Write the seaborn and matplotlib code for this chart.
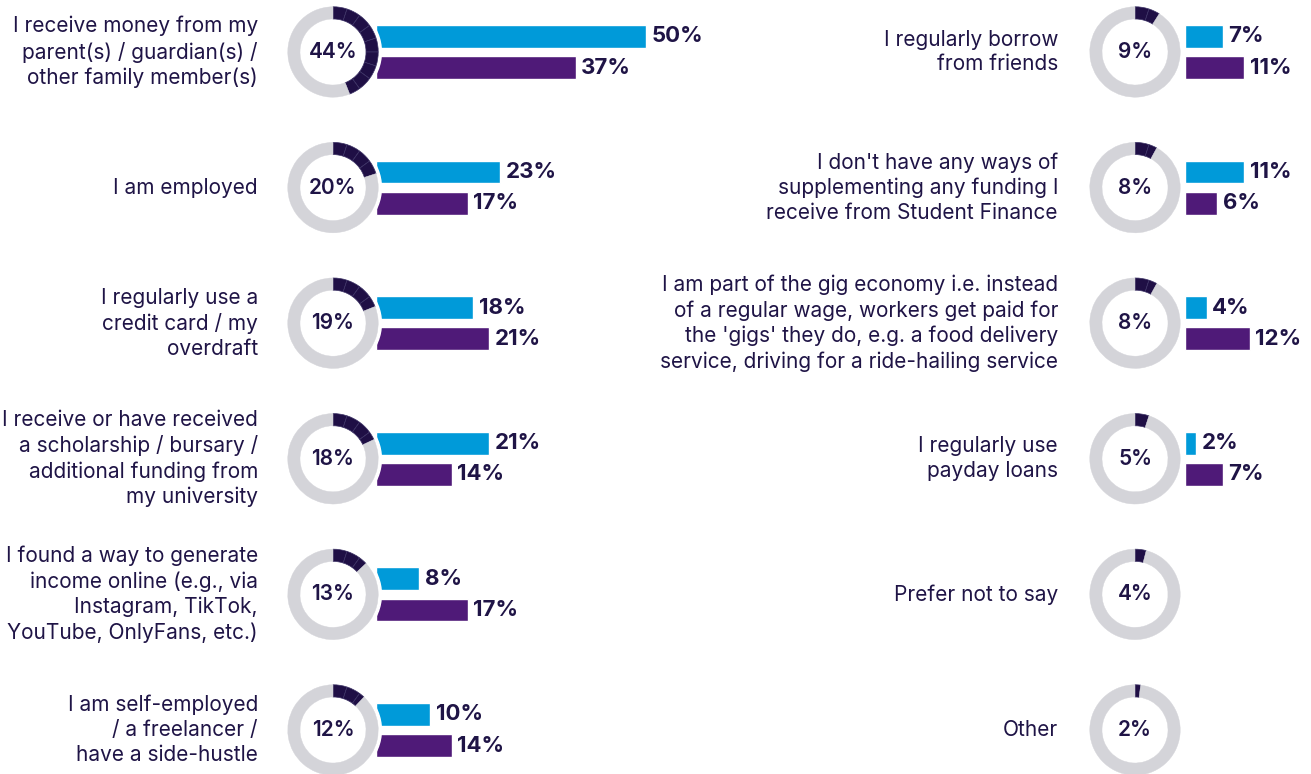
import numpy as np
import pandas as pd
import matplotlib
matplotlib.use("Agg")
import matplotlib.pyplot as plt
import matplotlib.transforms as mtransforms
from matplotlib.patches import Circle
import seaborn as sns

# ---------------- data ----------------
left_labels = [
    "I receive money from my\nparent(s) / guardian(s) /\nother family member(s)",
    "I am employed",
    "I regularly use a\ncredit card / my\noverdraft",
    "I receive or have received\na scholarship / bursary /\nadditional funding from\nmy university",
    "I found a way to generate\nincome online (e.g., via\nInstagram, TikTok,\nYouTube, OnlyFans, etc.)",
    "I am self-employed\n/ a freelancer /\nhave a side-hustle",
]
left_total = [44, 20, 19, 18, 13, 12]
left_blue = [50, 23, 18, 21, 8, 10]
left_purple = [37, 17, 21, 14, 17, 14]

right_labels = [
    "I regularly borrow\nfrom friends",
    "I don't have any ways of\nsupplementing any funding I\nreceive from Student Finance",
    "I am part of the gig economy i.e. instead\nof a regular wage, workers get paid for\nthe 'gigs' they do, e.g. a food delivery\nservice, driving for a ride-hailing service",
    "I regularly use\npayday loans",
    "Prefer not to say",
    "Other",
]
right_total = [9, 8, 8, 5, 4, 2]
right_blue = [7, 11, 4, 2, None, None]
right_purple = [11, 6, 12, 7, None, None]

series_names = ["Group A", "Group B"]

# ---------------- style ----------------
BLUE = "#009ad9"
PURPLE = "#4f1a78"
DARK = "#1f0f45"
GRAY = "#d4d4d9"
TEXT = "#1f1446"

sns.set_theme(style="white")
plt.rcParams["font.family"] = ["Inter", "DejaVu Sans"]

W, H = 1311, 774
fig = plt.figure(figsize=(W / 100, H / 100), dpi=100)
fig.patch.set_facecolor("white")

ROW0 = 52.0      # pixel y of first row center
ROWSTEP = 135.6  # pixel spacing of rows
PXPCT = 5.4      # pixels per percent


def make_df(labels, blue, purple):
    recs = []
    for lab, b, p in zip(labels, blue, purple):
        if b is not None:
            recs.append({"cat": lab, "series": series_names[0], "value": b})
        if p is not None:
            recs.append({"cat": lab, "series": series_names[1], "value": p})
    return pd.DataFrame(recs)


def column(labels, totals, blue, purple, x0_px, donut_cx, label_right_px, xmax):
    n = len(labels)
    top_px = ROW0 - ROWSTEP / 2
    height_px = ROWSTEP * n
    width_px = xmax * PXPCT
    ax = fig.add_axes([x0_px / W, (H - top_px - height_px) / H, width_px / W, height_px / H])
    ax.patch.set_alpha(0)
    df = make_df(labels, blue, purple)
    sns.barplot(data=df, y="cat", x="value", hue="series", order=labels,
                hue_order=series_names, palette=[BLUE, PURPLE], orient="h",
                width=0.46, gap=0.27, errorbar=None, legend=False, ax=ax,
                saturation=1)
    ax.set_xlim(0, xmax)
    ax.set_ylim(n - 0.5, -0.5)
    for cont in ax.containers:
        ax.bar_label(cont, fmt="{:.0f}%", padding=4, fontsize=16,
                     fontweight="bold", color=TEXT, clip_on=False)
    ax.axis("off")

    # category labels
    trans = mtransforms.blended_transform_factory(fig.transFigure, ax.transData)
    for i, lab in enumerate(labels):
        ax.text(label_right_px / W, i, lab, transform=trans, ha="right",
                va="center", fontsize=15, color=TEXT, linespacing=1.3,
                clip_on=False)

    # donuts
    size = 104
    for i, tot in enumerate(totals):
        cy = ROW0 + ROWSTEP * i
        dax = fig.add_axes([(donut_cx - size / 2) / W, (H - cy - size / 2) / H,
                            size / W, size / H])
        dax.patch.set_alpha(0)
        dax.add_patch(Circle((0, 0), 1.07, color="white", zorder=0))
        nfull = int(tot // 5)
        rem = tot - 5 * nfull
        vals = [5] * nfull + ([rem] if rem > 0 else []) + [100 - tot]
        wedges, _ = dax.pie(vals, startangle=90, counterclock=False, radius=1,
                            wedgeprops=dict(width=0.27))
        for w in wedges[:-1]:
            w.set_facecolor(DARK)
            w.set_edgecolor("#3d3366")
            w.set_linewidth(0.5)
        wedges[-1].set_facecolor(GRAY)
        wedges[-1].set_edgecolor(GRAY)
        wedges[-1].set_linewidth(0.3)
        dax.set_xlim(-1.15, 1.15)
        dax.set_ylim(-1.15, 1.15)
        dax.text(0, 0, f"{tot}%", ha="center", va="center", fontsize=15,
                 fontweight="semibold", color=TEXT)
        dax.axis("off")


column(left_labels, left_total, left_blue, left_purple,
       x0_px=376, donut_cx=333, label_right_px=258, xmax=100)
column(right_labels, right_total, right_blue, right_purple,
       x0_px=1185, donut_cx=1135, label_right_px=1058, xmax=23)

fig.savefig("out.png", dpi=100, facecolor="white")
